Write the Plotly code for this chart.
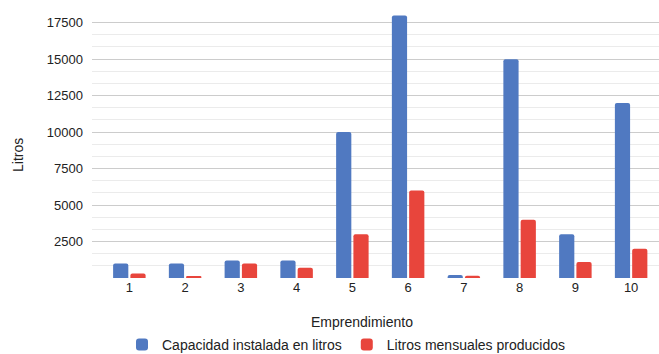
import plotly.graph_objects as go

# Entrepreneurship ids and volumes in litres
emprendimientos = ["1", "2", "3", "4", "5", "6", "7", "8", "9", "10"]
capacidad_instalada = [1000, 1000, 1200, 1200, 10000, 18000, 200, 15000, 3000, 12000]
litros_mensuales = [300, 80, 1000, 700, 3000, 6000, 150, 4000, 1100, 2000]

serie_capacidad = "Capacidad instalada en litros"
serie_mensual = "Litros mensuales producidos"

y_ticks = [2500, 5000, 7500, 10000, 12500, 15000, 17500]
y_tick_text = [str(v) for v in y_ticks]

FONT = "Arial, 'Liberation Sans', sans-serif"
TEXT = "#222222"

fig = go.Figure()
fig.add_trace(go.Bar(
    x=emprendimientos, y=capacidad_instalada, name=serie_capacidad,
    marker=dict(color="#5079c1", line=dict(width=0), cornerradius=2),
))
fig.add_trace(go.Bar(
    x=emprendimientos, y=litros_mensuales, name=serie_mensual,
    marker=dict(color="#e8453c", line=dict(width=0), cornerradius=2),
))

y_max = 18300
minor_step = 2500 / 3
minor_vals = [i * minor_step for i in range(1, int(y_max / minor_step) + 1) if i % 3 != 0]

W, H = 659, 354
L, R, T, B = 92, 0, 11, 76
plot_w, plot_h = W - L - R, H - T - B

fig.update_layout(
    width=W, height=H,
    margin=dict(l=L, r=R, t=T, b=B, autoexpand=False),
    paper_bgcolor="white", plot_bgcolor="white",
    font=dict(family=FONT, size=13, color=TEXT),
    barmode="group", bargap=0.38, bargroupgap=0.12,
    showlegend=True,
    legend=dict(
        orientation="h", xref="container", yref="container",
        x=346 / W, xanchor="center", y=9 / H, yanchor="middle",
        font=dict(family=FONT, size=14, color=TEXT),
        itemclick=False, tracegroupgap=0, itemwidth=30,
    ),
    xaxis=dict(
        type="category", range=[-0.67, 9.5], automargin=False,
        showgrid=False, showline=False, zeroline=False, ticks="",
        tickfont=dict(size=13, color=TEXT),
    ),
    yaxis=dict(
        range=[0, y_max], tickmode="array", tickvals=y_ticks, ticktext=y_tick_text,
        automargin=False,
        showgrid=True, gridcolor="#cccccc", gridwidth=1,
        zeroline=False, showline=False, ticks="",
        ticklabelstandoff=8,
        tickfont=dict(size=13, color=TEXT),
        minor=dict(tickmode="array", tickvals=minor_vals, showgrid=True,
                   gridcolor="#ebebeb", gridwidth=1, ticks=""),
    ),
    annotations=[
        dict(text="Emprendimiento", xref="paper", yref="paper",
             x=(362 - L) / plot_w, y=-(322 - (H - B)) / plot_h,
             xanchor="center", yanchor="middle",
             showarrow=False, font=dict(family=FONT, size=14, color=TEXT)),
        dict(text="Litros", xref="paper", yref="paper",
             x=-(L - 18) / plot_w, y=((H - B) - 155) / plot_h,
             xanchor="center", yanchor="middle",
             textangle=-90, showarrow=False,
             font=dict(family=FONT, size=14, color=TEXT)),
    ],
)

fig.write_html("out.html")
